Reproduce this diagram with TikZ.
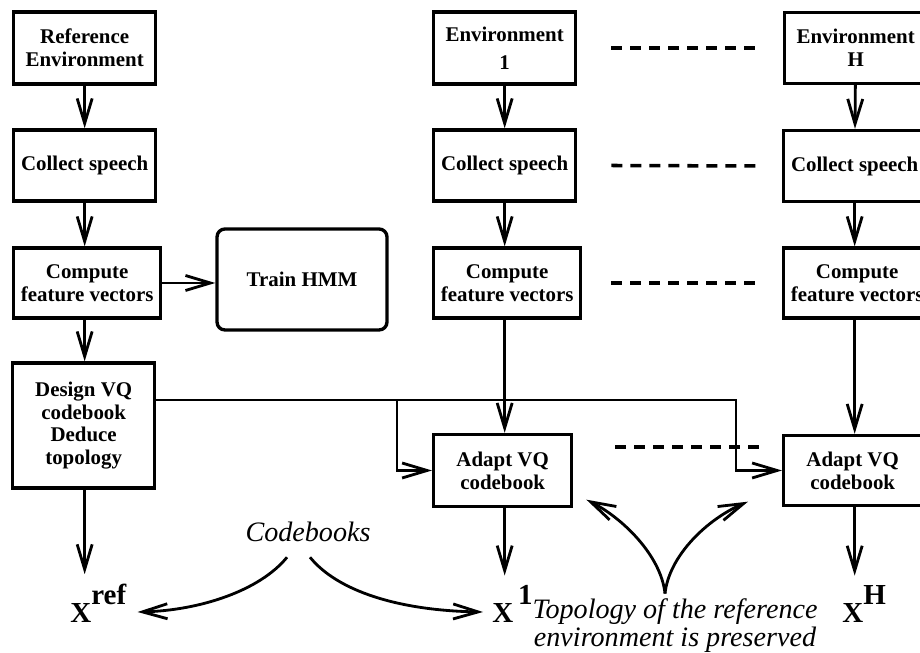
\documentclass[tikz,border=0pt]{standalone}
\usepackage{fontspec}
\setmainfont{Liberation Serif}
\usetikzlibrary{arrows.meta,calc}

\newcommand\xsup[1]{\raisebox{0.36cm}{#1}}

\tikzset{
  box/.style={draw, line width=1.9pt, inner sep=2pt, align=center,
    font=\fontsize{11.9}{13}\selectfont\bfseries},
  arr/.style={line width=1.6pt, -{Straight Barb[length=5mm,width=3mm]}},
  dashline/.style={line width=2pt, dash pattern=on 0.22cm off 0.16cm},
  xlabel/.style={inner xsep=0pt, inner ysep=0.2cm,
    font=\fontsize{16.5}{18}\selectfont\bfseries},
  note/.style={inner sep=0pt, align=center,
    font=\fontsize{16}{11.4}\selectfont\itshape}
}

\begin{document}
\begin{tikzpicture}
			\useasboundingbox (0,0) rectangle (18.4,13.06);
			
			% reference environment
			\node[box, anchor=west, minimum width=2.84cm, minimum height=1.44cm] (ref) at (0.24,12.1) {Reference\\Environment};
			\node[box, anchor=west, minimum width=2.84cm, minimum height=1.42cm] (coll0) at (0.24,9.75) {Collect speech};
			\node[box, anchor=west, minimum width=2.94cm, minimum height=1.4cm] (comp0) at (0.24,7.4) {Compute\\feature vectors};
			\node[box, rounded corners=0.16cm, minimum width=3.4cm, minimum height=2.02cm] (hmm) at (6.04,7.47) {Train HMM};
			\node[box, anchor=west, minimum width=2.84cm, minimum height=2.5cm] (design) at (0.22,4.55) {Design VQ\\codebook\\Deduce\\topology};
			
			% environment 1
			\node[box, anchor=west, minimum width=2.84cm, minimum height=1.44cm] (env1) at (8.64,12.1) {Environment\\[3pt]1};
			\node[box, anchor=west, minimum width=2.84cm, minimum height=1.42cm] (coll1) at (8.64,9.75) {Collect speech};
			\node[box, anchor=west, minimum width=2.94cm, minimum height=1.4cm] (comp1) at (8.64,7.4) {Compute\\feature vectors};
			\node[box, anchor=west, minimum width=2.76cm, minimum height=1.44cm] (adapt1) at (8.64,3.65) {Adapt VQ\\codebook};
			
			% environment H
			\node[box, anchor=west, minimum width=2.84cm, minimum height=1.42cm] (envH) at (15.66,12.1) {Environment\\H};
			\node[box, anchor=west, minimum width=2.84cm, minimum height=1.42cm] (collH) at (15.64,9.74) {Collect speech};
			\node[box, anchor=west, minimum width=2.94cm, minimum height=1.4cm] (compH) at (15.64,7.4) {Compute\\feature vectors};
			\node[box, anchor=west, minimum width=2.76cm, minimum height=1.4cm] (adaptH) at (15.64,3.65) {Adapt VQ\\codebook};
			
			% codebooks
			\node[xlabel, anchor=base west] (xref) at (1.4,0.6) {X\xsup{ref}};
			\node[xlabel, anchor=base west] (x1) at (9.84,0.6) {X\,\xsup{1}};
			\node[xlabel, anchor=base west] (xH) at (16.84,0.6) {X\xsup{H}};
			\node[note] (cb) at (6.16,2.42) {Codebooks};
			\node[note] (topo) at (13.5,0.55) {Topology of the reference\\environment is preserved};
			
			% vertical flow
			\draw[arr] (ref) -- (coll0);
			\draw[arr] (coll0.south) -- (coll0.south |- comp0.north);
			\draw[arr] (coll0.south |- comp0.south) -- (coll0.south |- design.north);
			\draw[arr] (coll0.south |- design.south) -- (coll0.south |- xref.north);
			\draw[arr] (comp0.east) -- (comp0.east -| hmm.west);
			
			\draw[arr] (env1) -- (coll1);
			\draw[arr] (coll1.south) -- (coll1.south |- comp1.north);
			\draw[arr] (coll1.south |- comp1.south) -- (coll1.south |- adapt1.north);
			\draw[arr] (coll1.south |- adapt1.south) -- (coll1.south |- x1.north);
			
			\draw[arr] (envH) -- (collH);
			\draw[arr] (collH.south) -- (collH.south |- compH.north);
			\draw[arr] (collH.south |- compH.south) -- (collH.south |- adaptH.north);
			\draw[arr] (collH.south |- adaptH.south) -- (collH.south |- xH.north);
			
			% reference codebook to the adapted ones
			\coordinate (fb) at ($(design.east)+(0,0.51)$);
			\coordinate (j1) at ($(adapt1.west)+(-0.7,0)$);
			\coordinate (jH) at ($(adaptH.west)+(-0.92,0)$);
			\draw[arr] (fb) -| (jH) -- (adaptH.west);
			\draw[arr] (j1 |- fb) -- (j1) -- (adapt1.west);
			
			% dots between environments
			\draw[dashline] ($(env1.east)+(0.68,0)$) -- ($(envH.west)+(-0.46,0)$);
			\draw[dashline] ($(coll1.east)+(0.68,0)$) -- ($(collH.west)+(-0.44,0)$);
			\draw[dashline] ($(comp1.east)+(0.58,0)$) -- ($(compH.west)+(-0.44,0)$);
			\draw[dashline] ($(adapt1.east)+(0.84,0.47)$) -- ($(adaptH.west)+(-0.34,0.47)$);
			
			% annotations
			\draw[arr] ($(cb.south)+(-0.42,-0.3)$) .. controls (5.2,1.25) and (4.0,0.85) .. ($(xref.base east)+(0.22,0.22)$);
			\draw[arr] ($(cb.south)+(0.04,-0.3)$) .. controls (6.74,1.25) and (7.94,0.85) .. ($(x1.base west)+(-0.18,0.22)$);
			\draw[arr] ($(topo.north)+(-0.2,0.1)$) .. controls (13.22,1.95) and (12.45,2.7) .. ($(adapt1.south east)+(0.26,0.17)$);
			\draw[arr] ($(topo.north)+(-0.2,0.1)$) .. controls (13.38,1.95) and (14.15,2.68) .. ($(adaptH.south west)+(-0.68,0.11)$);
			
\end{tikzpicture}
\end{document}
